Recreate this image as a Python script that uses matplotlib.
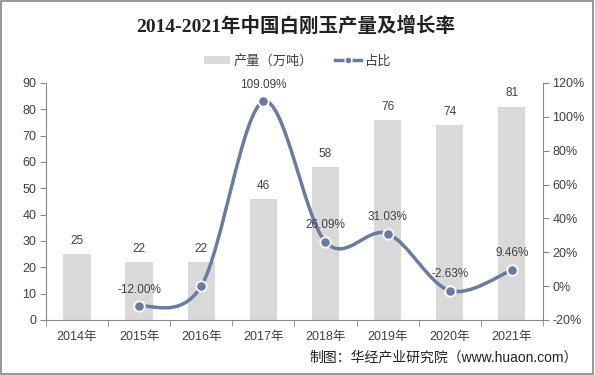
import matplotlib
matplotlib.use("Agg")
import matplotlib.pyplot as plt
from matplotlib.path import Path
from matplotlib.patches import PathPatch, Rectangle, Patch
from matplotlib.lines import Line2D
import numpy as np

plt.rcParams['font.family'] = ['Liberation Sans', 'Noto Sans CJK SC', 'DejaVu Sans']

years = ["2014年", "2015年", "2016年", "2017年", "2018年", "2019年", "2020年", "2021年"]
production = [25, 22, 22, 46, 58, 76, 74, 81]
ratio_years_idx = [1, 2, 3, 4, 5, 6, 7]
ratio = [-12.00, 0.00, 109.09, 26.09, 31.03, -2.63, 9.46]
ratio_labels = ["-12.00%", "", "109.09%", "26.09%", "31.03%", "-2.63%", "9.46%"]

bar_color = "#d9d9d9"
line_color = "#6a7ba2"
text_color = "#404040"
axis_color = "#888888"

fig = plt.figure(figsize=(5.95, 3.75), dpi=100)
ax = fig.add_axes([0.0773, 0.1467, 0.835, 0.632])
ax2 = ax.twinx()

x = np.arange(len(years))
ax.bar(x, production, width=0.44, color=bar_color, zorder=1)
for xi, v in zip(x, production):
    ax.annotate(str(v), (xi, v), xytext=(0, 9.5), textcoords="offset points",
                ha="center", va="center", fontsize=8.5, color=text_color)

ax.set_xlim(-0.5, len(years) - 0.5)
ax.set_ylim(0, 90)
ax.set_yticks(range(0, 91, 10))
ax2.set_ylim(-20, 120)
ax2.set_yticks(range(-20, 121, 20))
ax2.set_yticklabels([f"{t}%" for t in range(-20, 121, 20)])

ax.set_xticks(x)
ax.set_xticklabels(years)
ax.set_xticks(np.arange(-0.5, len(years), 1.0), minor=True)
ax.tick_params(axis='x', which='major', length=0, pad=8, labelsize=9, colors=text_color)
ax.tick_params(axis='x', which='minor', length=4, color=axis_color)
ax.tick_params(axis='y', length=4, color=axis_color, labelsize=9, labelcolor=text_color, pad=3)
ax2.tick_params(axis='y', length=4, color=axis_color, labelsize=9, labelcolor=text_color, pad=3)

for a in (ax, ax2):
    a.spines["top"].set_visible(False)
ax.spines["right"].set_visible(False)
ax2.spines["left"].set_visible(False)
ax2.spines["bottom"].set_visible(False)
ax.spines["left"].set_color(axis_color)
ax.spines["bottom"].set_color(axis_color)
ax2.spines["right"].set_color(axis_color)

# Smoothed line (Catmull-Rom -> cubic Bezier), like Excel smooth lines
px = np.array(ratio_years_idx, dtype=float)
py = np.array(ratio, dtype=float)
n = len(px)
verts = [(px[0], py[0])]
codes = [Path.MOVETO]
for i in range(n - 1):
    p0 = np.array([px[max(i - 1, 0)], py[max(i - 1, 0)]])
    p1 = np.array([px[i], py[i]])
    p2 = np.array([px[i + 1], py[i + 1]])
    p3 = np.array([px[min(i + 2, n - 1)], py[min(i + 2, n - 1)]])
    c1 = p1 + (p2 - p0) / 6.0
    c2 = p2 - (p3 - p1) / 6.0
    verts += [tuple(c1), tuple(c2), tuple(p2)]
    codes += [Path.CURVE4] * 3
ax2.add_patch(PathPatch(Path(verts, codes), fill=False, edgecolor=line_color,
                        linewidth=2.5, zorder=3, capstyle='round'))
ax2.plot(px, py, linestyle='none', marker='o', markersize=7.5,
         markerfacecolor=line_color, markeredgecolor='white', markeredgewidth=1.3, zorder=4)
for xi, yi, lab in zip(px, py, ratio_labels):
    if lab:
        ax2.annotate(lab, (xi, yi), xytext=(0, 12), textcoords="offset points",
                     ha="center", va="center", fontsize=8.5, color=text_color, zorder=5)

fig.text(0.497, 0.931, "2014-2021年中国白刚玉产量及增长率", ha="center", va="center",
         fontsize=14, fontweight="bold", color="#222222",
         family=['Liberation Serif', 'Noto Sans CJK SC'])

handles = [Patch(facecolor=bar_color, edgecolor='none'),
           Line2D([0], [0], color=line_color, linewidth=2.5, marker='o', markersize=5,
                  markerfacecolor=line_color, markeredgecolor='white')]
fig.legend(handles, ["产量（万吨）", "占比"], loc="center", bbox_to_anchor=(0.5, 0.837),
           ncol=2, frameon=False, fontsize=9.5, handlelength=2.0, handleheight=0.5,
           handletextpad=0.3, columnspacing=1.6, labelcolor=text_color)

fig.text(0.971, 0.048, "制图：华经产业研究院（www.huaon.com）", ha="right", va="center",
         fontsize=10, color="#222222")

fig.patches.append(Rectangle((0.002, 0.003), 0.995, 0.994, transform=fig.transFigure,
                             fill=False, edgecolor="#888888", linewidth=1.2))

fig.savefig("out.png", dpi=100)
